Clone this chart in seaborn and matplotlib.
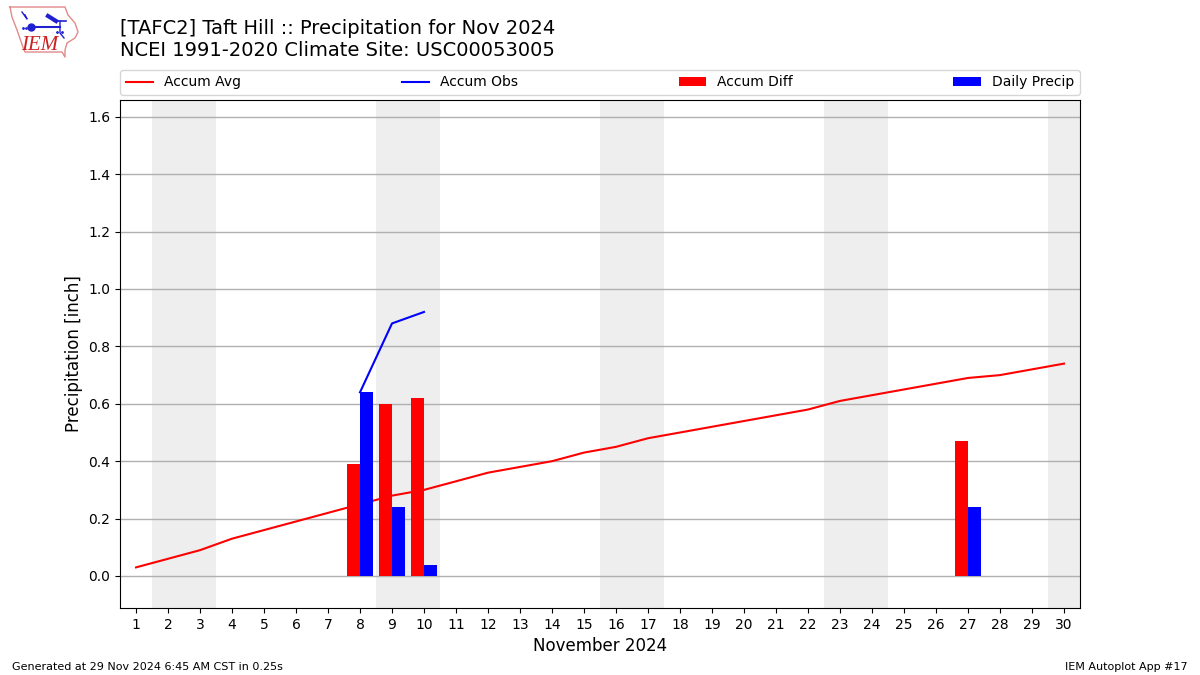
"""Daily and accumulated precipitation for one climate site."""

import matplotlib.pyplot as plt
import numpy as np
import pandas as pd
import seaborn as sns

days = list(range(1, 31))
accum_avg = [
    0.03, 0.06, 0.09, 0.13, 0.16, 0.19, 0.22, 0.25, 0.28, 0.30,
    0.33, 0.36, 0.38, 0.40, 0.43, 0.45, 0.48, 0.50, 0.52, 0.54,
    0.56, 0.58, 0.61, 0.63, 0.65, 0.67, 0.69, 0.70, 0.72, 0.74]
obs_days = [8, 9, 10]
accum_obs = [0.64, 0.88, 0.92]
bar_days = [8, 9, 10, 27]
accum_diff = [0.39, 0.60, 0.62, 0.47]
daily_precip = [0.64, 0.24, 0.04, 0.24]
weekends = [(1.5, 3.5), (8.5, 10.5), (15.5, 17.5), (22.5, 24.5), (29.5, 31.5)]
yticks = [0.0, 0.2, 0.4, 0.6, 0.8, 1.0, 1.2, 1.4, 1.6]

# logo outline, in logo pixels
logo_x = [10, 65, 68, 75, 78, 75, 67, 65, 65, 62, 25, 24, 17, 12, 10]
logo_y = [7, 7, 15, 23, 32, 38, 43, 50, 57, 52, 52, 50, 30, 17, 7]

bars = pd.DataFrame({
    'day': bar_days * 2,
    'value': accum_diff + daily_precip,
    'series': ['Accum Diff'] * 4 + ['Daily Precip'] * 4})

fig = plt.figure(figsize = (12, 6.75), dpi = 100)
ax = fig.add_axes([0.1, 1 - 608 / 675, 0.8, 508 / 675])

for start, end in weekends:
    ax.axvspan(start, end, color = '#eeeeee', lw = 0, zorder = 0)

sns.lineplot(
    x = days, y = accum_avg, color = 'red', label = 'Accum Avg',
    errorbar = None, zorder = 0.9, ax = ax)
sns.lineplot(
    x = obs_days, y = accum_obs, color = 'blue', label = 'Accum Obs',
    errorbar = None, zorder = 0.9, ax = ax)
sns.barplot(
    data = bars, x = 'day', y = 'value', hue = 'series',
    palette = {'Accum Diff': 'red', 'Daily Precip': 'blue'},
    native_scale = True, width = 0.8, saturation = 1, ax = ax)

ax.set_xlim(0.5, 30.5)
ax.set_ylim(-0.1115, 1.6585)
ax.set_xticks(days)
ax.set_yticks(yticks)
ax.set_axisbelow(True)
ax.grid(axis = 'y', color = '#b0b0b0', lw = 1)
ax.grid(axis = 'x', visible = False)
ax.set_xlabel('November 2024', fontsize = 12)
ax.set_ylabel('Precipitation [inch]', fontsize = 12)

handles, labels = ax.get_legend_handles_labels()
by_label = dict(zip(labels, handles))
order = ['Accum Avg', 'Accum Obs', 'Accum Diff', 'Daily Precip']
ax.legend(
    [by_label[x] for x in order], order, ncol = 4, mode = 'expand',
    loc = 'lower left', bbox_to_anchor = (0, 1.0098, 1, 0.05),
    borderaxespad = 0, fontsize = 10)

fig.text(0.1, 1 - 29 / 675, '[TAFC2] Taft Hill :: Precipitation for Nov 2024',
    fontsize = 14, va = 'center')
fig.text(0.1, 1 - 51 / 675, 'NCEI 1991-2020 Climate Site: USC00053005',
    fontsize = 14, va = 'center')
fig.text(0.01, 1 - 667 / 675, 'Generated at 29 Nov 2024 6:45 AM CST in 0.25s',
    fontsize = 8, va = 'center')
fig.text(0.99, 1 - 667 / 675, 'IEM Autoplot App #17',
    fontsize = 8, va = 'center', ha = 'right')

logo = fig.add_axes([0, 1 - 60 / 675, 90 / 1200, 60 / 675])
logo.set_xlim(0, 90)
logo.set_ylim(60, 0)
logo.axis('off')
logo.plot(logo_x, logo_y, color = '#e28a8a', lw = 1)
logo.plot([31, 60], [27, 27], color = '#2020d0', lw = 1.5)
logo.plot([31], [27], 'o', color = '#2020d0', ms = 5)
logo.plot([48, 56], [16, 21], color = '#2020d0', lw = 3)
logo.plot([54, 66], [21, 21], color = '#2020d0', lw = 1.2)
logo.plot([60, 60, 64], [21, 33, 38], color = '#2020d0', lw = 1)
logo.plot([22, 27, 25], [12, 19, 15], color = '#2020d0', lw = 1)
logo.plot([23, 26, 57, 62], [28, 28, 32, 32], ls = 'none', marker = '.',
    color = '#2020d0', ms = 2)
logo.text(21, 45, 'IEM', color = '#cc2020', fontsize = 15, va = 'center',
    family = 'Liberation Serif', style = 'italic', stretch = 'condensed')

fig.savefig('out.png', dpi = 100)
